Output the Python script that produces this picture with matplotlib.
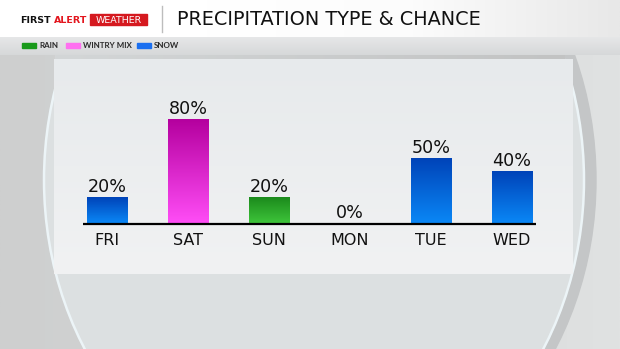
import numpy as np
import matplotlib
matplotlib.use('Agg')
from matplotlib import pyplot as plt
from matplotlib.colors import LinearSegmentedColormap
from matplotlib.patches import Rectangle, Ellipse

days = ['FRI', 'SAT', 'SUN', 'MON', 'TUE', 'WED']
chance = [20, 80, 20, 0, 50, 40]
precip = ['snow', 'wintry', 'rain', 'snow', 'snow', 'snow']

legend_keys = ['rain', 'wintry', 'snow']
legend_names = ['RAIN', 'WINTRY MIX', 'SNOW']

# gradient ends for each precipitation type (top, bottom)
bar_top = {'rain': '#1b8a1c', 'wintry': '#b4009e', 'snow': '#0043b8'}
bar_bottom = {'rain': '#3ec43a', 'wintry': '#ff4df6', 'snow': '#0a87f6'}
swatch = {'rain': '#189a1a', 'wintry': '#ff70f0', 'snow': '#1a6ff0'}

W, H = 620, 349
fig = plt.figure(figsize=(W/100, H/100), dpi=100)


def grad(ax, x0, x1, top, bottom, colors, vertical=True, z=0):
    cmap = LinearSegmentedColormap.from_list('g', colors)
    g = np.linspace(0, 1, 256)
    arr = g[:, None] if vertical else g[None, :]
    return ax.imshow(arr, cmap=cmap, extent=(x0, x1, bottom, top), aspect='auto',
                     interpolation='bilinear', zorder=z)


# ---- background in pixel coordinates
bg = fig.add_axes([0, 0, 1, 1])

grad(bg, 0, W, 0, H, ['#cecfcf', '#d4d6d6', '#e0e2e2'], vertical=False, z=0)
bg.add_patch(Ellipse((326, 180), 540, 640, color='#c4c6c7', zorder=1))
bg.add_patch(Ellipse((314, 180), 540, 640, color='#dce0e1', zorder=2))
bg.add_patch(Ellipse((314, 180), 540, 640, fill=False, ec='#ecf4f7', lw=1.8, zorder=2.5))

# header band and legend strip
grad(bg, 0, W, 0, 37, ['#ffffff', '#ffffff', '#fcfcfc', '#e8e8e8'], vertical=False, z=4)
grad(bg, 0, W, 37, 55, ['#e6e7e8', '#d6d8d9'], z=4)

# shadow strip and panel
grad(bg, 55, 565, 55, 59, ['#d3d6d7', '#c2c3c3'], vertical=False, z=4.2)
grad(bg, 54, 573, 59, 274, ['#e7eaec', '#f1f2f3'], z=4.3)

bg.text(20, 23, 'FIRST', fontsize=6.8, fontweight='bold', color='#111111',
        va='baseline', ha='left', zorder=5)
bg.text(54, 23, 'ALERT', fontsize=6.8, fontweight='bold', color='#e3161e',
        va='baseline', ha='left', zorder=5)
bg.add_patch(Rectangle((90, 14), 57, 11, color='#d5191f', zorder=5))
bg.text(118.5, 23, 'WEATHER', fontsize=6.8, color='white',
        va='baseline', ha='center', zorder=6)
bg.plot([162, 162], [6, 32], color='#bdbdbd', lw=1, zorder=5)
bg.text(177, 25, 'PRECIPITATION TYPE & CHANCE', fontsize=13.9,
        color='#111111', va='baseline', ha='left', zorder=5)

# legend
lx = [22, 66, 137]
for x, key, name in zip(lx, legend_keys, legend_names):
    bg.add_patch(Rectangle((x, 42.7), 14, 5.6, color=swatch[key], zorder=5))
    bg.text(x + 17, 48.4, name, fontsize=5.8, family='Lato', fontweight='bold',
            color='#2a2a2a', va='baseline', ha='left', zorder=5)

bg.set_xlim(0, W)
bg.set_ylim(H, 0)
bg.axis('off')

# ---- chart
ax = fig.add_axes([66.5/W, (H-223)/H, 486/W, 130/H])
ax.patch.set_alpha(0)
ax.axis('off')

pos = np.arange(len(days))
bars = ax.bar(pos, chance, width=0.494, color='none', zorder=2)
for b, key in zip(bars, precip):
    if b.get_height() > 0:
        grad(ax, b.get_x(), b.get_x() + b.get_width(), b.get_height(), 0,
             [bar_top[key], bar_bottom[key]], z=2)

ax.plot([-0.3, 5.3], [-0.5, -0.5], color='black', lw=1.6, solid_capstyle='butt',
        zorder=3, clip_on=False)

for i, v in enumerate(chance):
    ax.text(i, v + 3.6, f'{v}%', fontsize=12.6, color='#111111',
            ha='center', va='baseline', clip_on=False)
    ax.text(i, -17, days[i], fontsize=11.5, color='#111111',
            ha='center', va='baseline', clip_on=False)

ax.set_xlim(-0.5, 5.5)
ax.set_ylim(0, 100)

fig.savefig('out.png', dpi=100)
